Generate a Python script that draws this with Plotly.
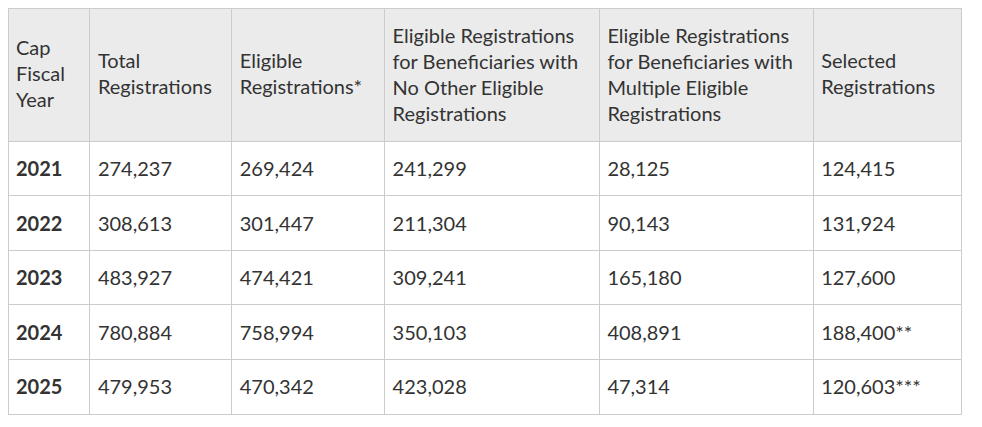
import plotly.graph_objects as go

# column headers (line breaks as in the source table)
headers = [
    "Cap<br>Fiscal<br>Year",
    "Total<br>Registrations",
    "Eligible<br>Registrations*",
    "Eligible Registrations<br>for Beneficiaries with<br>No Other Eligible<br>Registrations",
    "Eligible Registrations<br>for Beneficiaries with<br>Multiple Eligible<br>Registrations",
    "Selected<br>Registrations",
]

fiscal_years = ["2021", "2022", "2023", "2024", "2025"]
total_regs = ["274,237", "308,613", "483,927", "780,884", "479,953"]
eligible_regs = ["269,424", "301,447", "474,421", "758,994", "470,342"]
eligible_single = ["241,299", "211,304", "309,241", "350,103", "423,028"]
eligible_multi = ["28,125", "90,143", "165,180", "408,891", "47,314"]
selected_regs = ["124,415", "131,924", "127,600", "188,400**", "120,603***"]

font_family = "Source Sans Pro, Lato, sans-serif"
font_size = 20
line_col = "#cccccc"
text_col = "#333333"


# plotly tables top-align text by its bounding box; a blank lead line with a
# small font pushes the real text down so it sits mid-cell like the original
def nudge(text, px):
    lead = max(px - 6.4, 1) / 0.99
    return '<span style="font-size:%.1fpx">\u00a0</span><br>%s' % (lead, text)


max_lines = max(h.count("<br>") + 1 for h in headers)
head_vals = [nudge(h, 6 + (max_lines - h.count("<br>") - 1) * 13) for h in headers]

cols = [["<b>%s</b>" % y for y in fiscal_years], total_regs, eligible_regs,
        eligible_single, eligible_multi, selected_regs]
cell_vals = [[nudge(v, 6) for v in c] for c in cols]

fig = go.Figure(go.Table(
    domain=dict(x=[0, 953 / 982], y=[0, 1]),
    columnwidth=[82, 142, 153, 215, 214, 148],
    header=dict(
        values=head_vals,
        fill_color="#ebebeb",
        line_color=line_col,
        align="left",
        height=133,
        font=dict(family=font_family, size=font_size, color=text_col),
    ),
    cells=dict(
        values=cell_vals,
        fill_color="white",
        line_color=line_col,
        align="left",
        height=54.6,
        font=dict(family=font_family, size=font_size, color=text_col),
    ),
))

fig.update_layout(
    width=982, height=427,
    margin=dict(l=0, r=0, t=0, b=0),
    paper_bgcolor="white",
)

fig.write_html("out.html")
